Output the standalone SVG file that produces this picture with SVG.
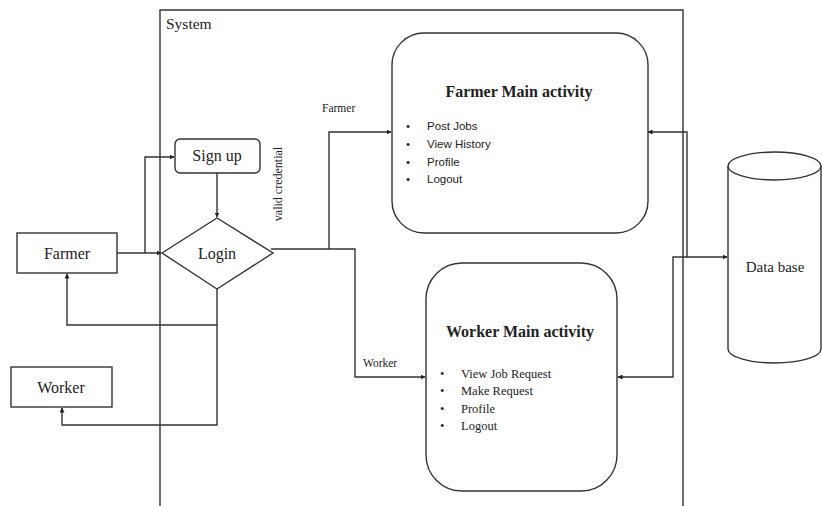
<svg xmlns="http://www.w3.org/2000/svg" width="822" height="506" viewBox="0 0 822 506">
<defs>
<marker id="ah" viewBox="0 0 10 10" refX="9" refY="5" markerWidth="5" markerHeight="5" orient="auto-start-reverse" markerUnits="userSpaceOnUse"><path d="M0,0 L10,5 L0,10 z" fill="#222"/></marker>
<style>
.s{fill:#fff;stroke:#333;stroke-width:1.4}
.c{fill:none;stroke:#333;stroke-width:1.4}
.t{font-family:"Liberation Serif","Times New Roman",serif;fill:#222}
.m{font-size:16px;text-anchor:middle}
.h{font-size:16px;font-weight:bold;text-anchor:middle}
.sm{font-size:11.5px}
.sa{font-family:"Liberation Sans",Arial,sans-serif;fill:#222;font-size:11.5px}
</style>
</defs>
<rect width="822" height="506" fill="#fff"/>
<g id="system">
<path class="c" d="M160,506 V10 H683 V506"/>
<text class="t" x="166" y="29" font-size="15.5">System</text>
</g>
<g id="connectors">
<path class="c" d="M117,253 H161" marker-end="url(#ah)"/>
<path class="c" d="M145,253 V157 H174" marker-end="url(#ah)"/>
<path class="c" d="M217,173 V217" marker-end="url(#ah)"/>
<path class="c" d="M217,289 V325 H67 V274" marker-end="url(#ah)"/>
<path class="c" d="M217,325 V425 H62 V408" marker-end="url(#ah)"/>
<path class="c" d="M271,249 H355 V377 H425" marker-end="url(#ah)"/>
<path class="c" d="M329,249 V132 H391" marker-end="url(#ah)"/>
<path class="c" d="M648,132 H687 V257 H727" marker-start="url(#ah)" marker-end="url(#ah)"/>
<path class="c" d="M687,257 H673 V377 H618" marker-end="url(#ah)"/>
<text class="t sm" x="322" y="112">Farmer</text>
<text class="t sm" x="363" y="367">Worker</text>
<text class="t" font-size="12" text-anchor="middle" transform="translate(282,184) rotate(-90)">valid credential</text>
</g>
<g id="farmer">
<rect class="s" x="17" y="233" width="100" height="40"/>
<text class="t m" x="67" y="259">Farmer</text>
</g>
<g id="worker">
<rect class="s" x="11" y="367" width="101" height="40"/>
<text class="t m" x="61" y="393">Worker</text>
</g>
<g id="signup">
<rect class="s" x="175" y="139" width="85" height="34" rx="5"/>
<text class="t m" x="217" y="161">Sign up</text>
</g>
<g id="login">
<polygon class="s" points="162,253 217,218 273,253 217,289"/>
<text class="t m" x="217" y="259">Login</text>
</g>
<g id="farmer-main">
<rect class="s" x="392" y="33" width="256" height="200" rx="32"/>
<text class="t h" x="519" y="97">Farmer Main activity</text>
<g class="sa">
<text x="406" y="130">•</text><text x="427" y="130">Post Jobs</text>
<text x="406" y="148">•</text><text x="427" y="148">View History</text>
<text x="406" y="166">•</text><text x="427" y="166">Profile</text>
<text x="406" y="183">•</text><text x="427" y="183">Logout</text>
</g>
</g>
<g id="worker-main">
<rect class="s" x="426" y="263" width="191" height="228" rx="36"/>
<text class="t h" x="520" y="337">Worker Main activity</text>
<g class="t" font-size="12.5">
<text x="440" y="378">•</text><text x="461" y="378">View Job Request</text>
<text x="440" y="395">•</text><text x="461" y="395">Make Request</text>
<text x="440" y="413">•</text><text x="461" y="413">Profile</text>
<text x="440" y="430">•</text><text x="461" y="430">Logout</text>
</g>
</g>
<g id="database">
<path class="s" d="M728,166 V349 A46.5,14 0 0 0 821,349 V166"/>
<ellipse class="s" cx="774.5" cy="166" rx="46.5" ry="14"/>
<text class="t" x="775" y="272" font-size="15" text-anchor="middle">Data base</text>
</g>
</svg>
